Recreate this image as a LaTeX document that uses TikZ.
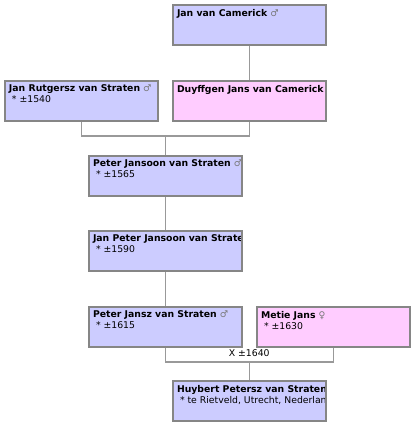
\documentclass[tikz,border=0pt]{standalone}
\usepackage{fontspec}
\setmainfont{DejaVu Sans}
\definecolor{manfill}{HTML}{CCCCFF}
\definecolor{womanfill}{HTML}{FFCCFF}
\definecolor{boxline}{HTML}{868686}
\definecolor{linkline}{HTML}{999999}
\definecolor{symgray}{HTML}{777777}
\begin{document}
\begin{tikzpicture}
[x=1pt, y=-1pt, font=\fontsize{9.3}{11}\selectfont]

\tikzstyle{person}=[draw=boxline, line width=1.5pt, inner sep=0pt, anchor=north west,
  minimum width=153pt, minimum height=40pt]
\tikzstyle{man}=[person, fill=manfill]
\tikzstyle{woman}=[person, fill=womanfill]
\tikzstyle{info}=[path picture={\node[anchor=north west, inner sep=0pt, align=left,
  minimum width=0pt, minimum height=0pt, draw=none, fill=none]
  at ([shift={(3.5pt,-3.5pt)}]path picture bounding box.north west) {#1};}]
\tikzstyle{link}=[draw=linkline, line width=1.2pt]

\useasboundingbox (0,0) rectangle (411,424);

% generation 1
\node[man, info={\textbf{Jan van Camerick} {\color{symgray}♂}}] (camerick) at (172,4) {};

% generation 2
\node[man, info={\textbf{Jan Rutgersz van Straten} {\color{symgray}♂}\\\hspace{3pt}* ±1540}] (rutgersz) at (4,80) {};
\node[woman, info={\textbf{Duyffgen Jans van Camerick} {\color{symgray}♀}}] (duyffgen) at (172,80) {};

% generation 3-5
\node[man, info={\textbf{Peter Jansoon van Straten} {\color{symgray}♂}\\\hspace{3pt}* ±1565}] (jansoon) at (88,155) {};
\node[man, info={\textbf{Jan Peter Jansoon van Straten} {\color{symgray}♂}\\\hspace{3pt}* ±1590}] (janpeter) at (88,230) {};
\node[man, info={\textbf{Peter Jansz van Straten} {\color{symgray}♂}\\\hspace{3pt}* ±1615}] (jansz) at (88,306) {};
\node[woman, info={\textbf{Metie Jans} {\color{symgray}♀}\\\hspace{3pt}* ±1630}] (metie) at (256,306) {};

% generation 6
\node[man, info={\textbf{Huybert Petersz van Straten} {\color{symgray}♂}\\\hspace{3pt}* te Rietveld, Utrecht, Nederland}] (huybert) at (172,380) {};

\path (jansoon.north) ++(0,-19) coordinate (wed1);
\path (huybert.north) ++(0,-18) coordinate (wed2);
\node (wedding) at ([yshift=9pt]wed2) {X ±1640};

\draw[link] (camerick.south) -- (duyffgen.north);
\draw[link] (rutgersz.south) |- (wed1) -| (duyffgen.south);
\draw[link] (wed1) -- (jansoon.north);
\draw[link] (jansoon.south) -- (janpeter.north);
\draw[link] (janpeter.south) -- (jansz.north);
\draw[link] (jansz.south) |- (wed2) -| (metie.south);
\draw[link] (wed2) -- (huybert.north);
\end{tikzpicture}
\end{document}
